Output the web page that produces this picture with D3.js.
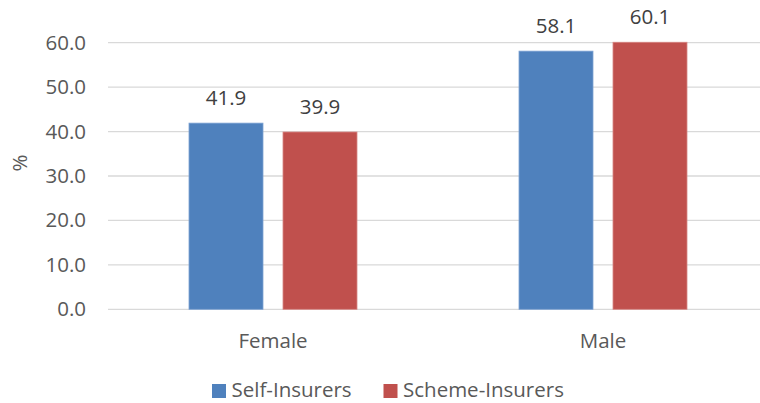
<!DOCTYPE html>
<meta charset="utf-8">
<style>
    body { margin: 0; overflow: hidden; background: #fff; }
    text { font-family: "Open Sans", "Noto Sans", sans-serif; }
</style>
<svg id="canvas" width="760" height="403"></svg>
<script src="https://d3js.org/d3.v7.min.js"></script>
<script>

    var categories = ["Female", "Male"];
    var seriesNames = ["Self-Insurers", "Scheme-Insurers"];
    var selfInsurers = [41.9, 58.1];
    var schemeInsurers = [39.9, 60.1];
    var yTicks = [0, 10, 20, 30, 40, 50, 60];
    var colors = ["#4f81bd", "#c0504d"];
    var strokes = ["#7da2d3", "#d88784"];

    var svg = d3.select("#canvas");
    var fs = "20.5px";

    // plot area runs off the right edge like the original
    var plotLeft = 108, plotRight = 768, plotTop = 42.7, plotBottom = 309.3;

    var x = d3.scaleBand().domain(categories).range([plotLeft, plotRight]).paddingInner(0).paddingOuter(0);
    var xs = d3.scaleBand().domain(seriesNames).range([81, 249]).paddingInner(20 / 94);
    var y = d3.scaleLinear().domain([0, 60]).range([plotBottom, plotTop]);

    // gridlines
    svg.append("g")
       .selectAll("line")
       .data(yTicks)
       .enter().append("line")
       .attr("x1", plotLeft).attr("x2", plotRight)
       .attr("y1", function(d) { return y(d); })
       .attr("y2", function(d) { return y(d); })
       .attr("stroke", "#d9d9d9")
       .attr("stroke-width", 1.3);

    // y axis labels
    var yAxis = svg.append("g")
       .attr("transform", "translate(" + 86 + ",0)")
       .call(d3.axisLeft(y).tickValues(yTicks).tickFormat(d3.format(".1f")).tickSize(0).tickPadding(0));
    yAxis.select(".domain").remove();
    yAxis.selectAll("text")
         .attr("font-size", fs)
         .attr("font-family", "'Open Sans', sans-serif")
         .attr("fill", "#595959");

    svg.append("text")
       .attr("transform", "translate(20," + 163 + ") rotate(-90)")
       .attr("text-anchor", "middle")
       .attr("dy", "0.35em")
       .attr("font-size", fs)
       .attr("fill", "#595959")
       .text("%");

    var rows = categories.map(function(c, i) {
        return { cat: c, vals: [selfInsurers[i], schemeInsurers[i]] };
    });

    var groups = svg.append("g")
       .selectAll("g")
       .data(rows)
       .enter().append("g")
       .attr("transform", function(d) { return "translate(" + x(d.cat) + ",0)"; });

    var cells = groups.selectAll("g")
       .data(function(d) { return d.vals.map(function(v, k) { return { name: seriesNames[k], k: k, v: v }; }); })
       .enter().append("g");

    cells.append("rect")
       .attr("x", function(d) { return xs(d.name); })
       .attr("width", xs.bandwidth())
       .attr("y", function(d) { return y(d.v); })
       .attr("height", function(d) { return y(0) - y(d.v); })
       .attr("fill", function(d) { return colors[d.k]; })
       .attr("stroke", function(d) { return strokes[d.k]; })
       .attr("stroke-width", 0.8);

    cells.append("text")
       .attr("x", function(d) { return xs(d.name) + xs.bandwidth() / 2; })
       .attr("y", function(d) { return y(d.v) - 18; })
       .attr("text-anchor", "middle")
       .attr("font-size", fs)
       .attr("fill", "#404040")
       .text(function(d) { return d3.format(".1f")(d.v); });

    // category labels
    svg.append("g")
       .selectAll("text")
       .data(categories)
       .enter().append("text")
       .attr("x", function(d) { return x(d) + 165; })
       .attr("y", 348)
       .attr("text-anchor", "middle")
       .attr("font-size", fs)
       .attr("fill", "#595959")
       .text(function(d) { return d; });

    // legend
    var legendX = [212, 383.5];
    var legend = svg.append("g")
       .selectAll("g")
       .data(seriesNames)
       .enter().append("g")
       .attr("transform", function(d, i) { return "translate(" + legendX[i] + ",384)"; });

    legend.append("rect")
       .attr("width", 14).attr("height", 14)
       .attr("fill", function(d, i) { return colors[i]; });

    legend.append("text")
       .attr("x", 19.5)
       .attr("y", 13)
       .attr("font-size", fs)
       .attr("fill", "#595959")
       .text(function(d) { return d; });

</script>
